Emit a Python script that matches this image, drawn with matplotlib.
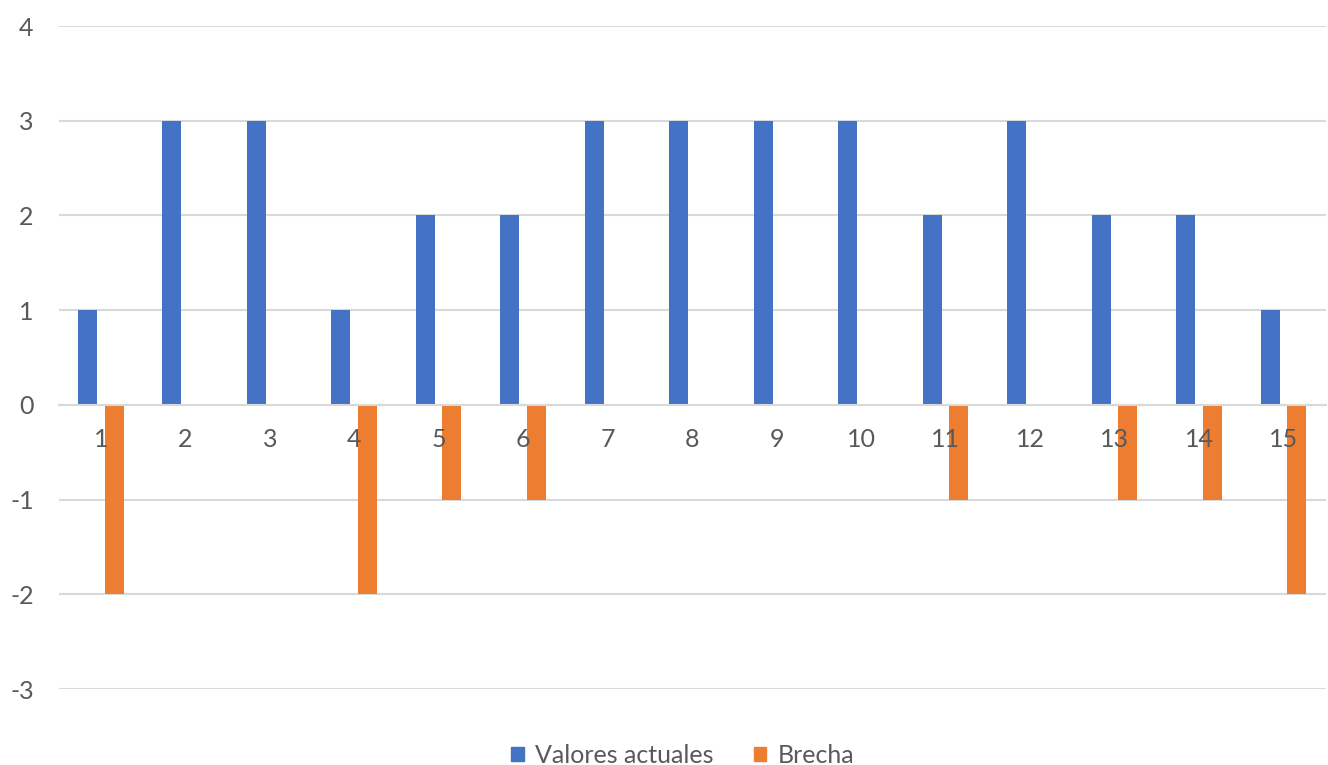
import matplotlib

matplotlib.use("Agg")
import matplotlib.pyplot as plt  # noqa: E402
import numpy as np  # noqa: E402
from matplotlib.patches import Patch  # noqa: E402

categorias = [str(i) for i in range(1, 16)]
valores_actuales = [1, 3, 3, 1, 2, 2, 3, 3, 3, 3, 2, 3, 2, 2, 1]
brecha = [-2, 0, 0, -2, -1, -1, 0, 0, 0, 0, -1, 0, -1, -1, -2]
y_ticks = [-3, -2, -1, 0, 1, 2, 3, 4]

AZUL = "#4472C4"
NARANJA = "#ED7D31"
GRIS_TEXTO = "#595959"
GRIS_GRILLA = "#D9D9D9"
TAM = 18

plt.rcParams["font.family"] = ["Lato", "DejaVu Sans"]

fig = plt.figure(figsize=(13.28, 7.65), dpi=100)
ax = fig.add_axes([0.0442, 0.0993, 0.9543, 0.8667])

x = np.arange(len(categorias))
ancho = 0.225
ax.bar(x - 0.16, valores_actuales, width=ancho, color=AZUL, zorder=2)
ax.bar(x + 0.155, brecha, width=ancho, color=NARANJA, zorder=2)

ax.set_xlim(-0.5, len(categorias) - 0.5)
ax.set_ylim(-3, 4)
ax.set_yticks(y_ticks)
ax.set_yticklabels([str(v) for v in y_ticks])
ax.grid(axis="y", color=GRIS_GRILLA, linewidth=1.5, zorder=0)
ax.set_axisbelow(True)

# eje de categorias sobre la linea del cero
ax.spines["bottom"].set_position(("data", 0))
ax.spines["bottom"].set_color(GRIS_GRILLA)
ax.spines["bottom"].set_linewidth(1.5)
for lado in ("top", "right", "left"):
    ax.spines[lado].set_visible(False)

# etiquetas de categoria encima de las barras
ax.set_xticks([])
for xi, cat in zip(x, categorias):
    ax.annotate(cat, xy=(xi, 0), xytext=(0, -17), textcoords="offset points",
                ha="center", va="top", fontsize=TAM, color=GRIS_TEXTO, zorder=5)
ax.tick_params(axis="y", length=0, pad=18, labelsize=TAM, labelcolor=GRIS_TEXTO)

handles = [Patch(color=AZUL, label="Valores actuales"),
           Patch(color=NARANJA, label="Brecha")]
fig.legend(handles=handles, loc="center", bbox_to_anchor=(0.514, 0.013),
           ncol=2, frameon=False, fontsize=TAM, labelcolor=GRIS_TEXTO,
           handlelength=0.5, handleheight=0.5, handletextpad=0.45,
           columnspacing=1.6)

fig.savefig("out.png", dpi=100)
plt.close(fig)
